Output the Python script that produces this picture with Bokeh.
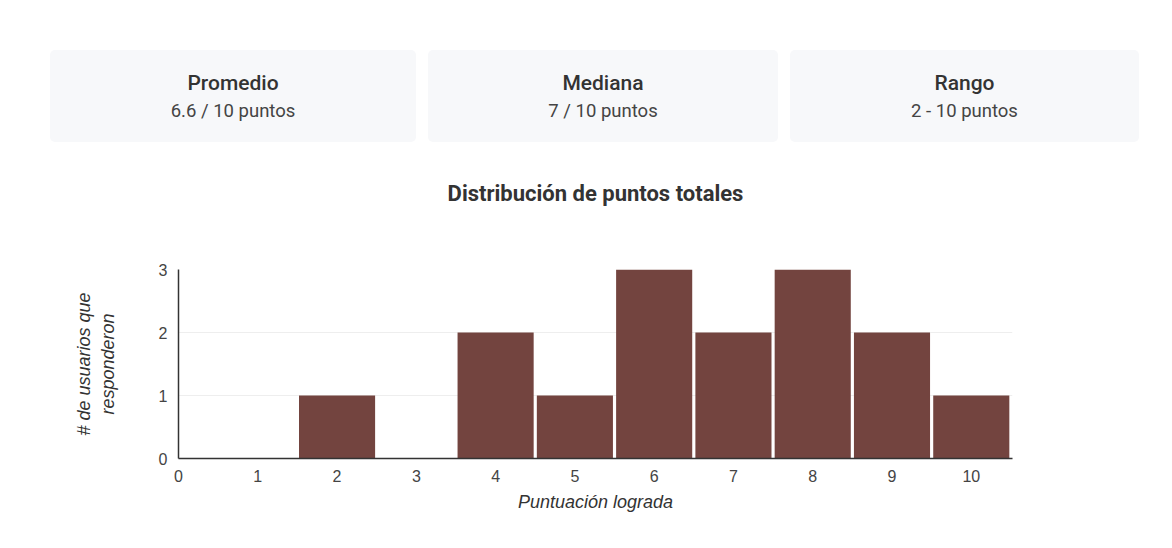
from bokeh.plotting import figure
from bokeh.models import Div, FixedTicker, Title
from bokeh.layouts import column
from bokeh.embed import file_html
from bokeh.resources import INLINE

# ---- data ----
scores = [0, 1, 2, 3, 4, 5, 6, 7, 8, 9, 10]
counts = [0, 0, 1, 0, 2, 1, 3, 2, 3, 2, 1]
card_titles = ["Promedio", "Mediana", "Rango"]
card_values = ["6.6 / 10 puntos", "7 / 10 puntos", "2 - 10 puntos"]
chart_title = "Distribución de puntos totales"
x_label = "Puntuación lograda"
y_label = "# de usuarios que\nresponderon"

# ---- cards ----
card_lefts = [42, 420, 782]
card_widths = [366, 350, 349]
cards_html = ""
for t, v, l, w in zip(card_titles, card_values, card_lefts, card_widths):
    cards_html += (
        f'<div style="position:absolute;left:{l}px;top:42px;width:{w}px;height:92px;'
        'background:#f7f8fa;border-radius:5px;font-family:Roboto,sans-serif;text-align:center;">'
        f'<div style="position:absolute;left:0;right:0;top:20px;font-size:21px;font-weight:500;color:#333;line-height:26px;">{t}</div>'
        f'<div style="position:absolute;left:0;right:0;top:50px;font-size:18.5px;color:#444;line-height:22px;">{v}</div>'
        '</div>'
    )
div = Div(text=f'<div style="position:relative;width:1156px;height:152px;">{cards_html}</div>',
          width=1156, height=152, margin=(0, 0, -47, 0))

# ---- chart ----
p = figure(width=1156, height=419, output_backend="svg", toolbar_location=None,
           x_range=(0, 10.52), y_range=(0, 3),
           min_border_left=170, min_border_right=152, min_border_top=156, min_border_bottom=74,
           margin=(0, 0, 0, 0))
p.outline_line_color = None
p.border_fill_color = None
p.background_fill_color = "#ffffff"
p.title = Title(text=chart_title, align="center", text_font="Roboto", text_font_size="22px",
                text_font_style="bold", text_color="#333333", standoff=128)

p.vbar(x=scores, top=counts, width=0.96, color="#73443f", line_color=None)

p.xaxis.ticker = FixedTicker(ticks=scores)
p.yaxis.ticker = FixedTicker(ticks=[0, 1, 2, 3])
for ax in (p.xaxis[0], p.yaxis[0]):
    ax.axis_line_color = "#333333"
    ax.axis_line_width = 1.5
    ax.major_tick_line_color = None
    ax.minor_tick_line_color = None
    ax.major_label_text_font = "Liberation Sans"
    ax.major_label_text_font_size = "16px"
    ax.major_label_text_color = "#444444"
    ax.axis_label_text_font = "Liberation Sans"
    ax.axis_label_text_font_size = "18px"
    ax.axis_label_text_font_style = "italic"
    ax.axis_label_text_color = "#333333"

p.xaxis.axis_label = x_label
p.xaxis.axis_label_standoff = 7
p.yaxis.axis_label = y_label
p.yaxis.axis_label_standoff = 38
p.xgrid.grid_line_color = None
p.ygrid.grid_line_color = "#eeeeee"

layout = column(div, p, margin=(8, 0, 0, 8), spacing=0)
open("out.html", "w").write(file_html(layout, INLINE))
